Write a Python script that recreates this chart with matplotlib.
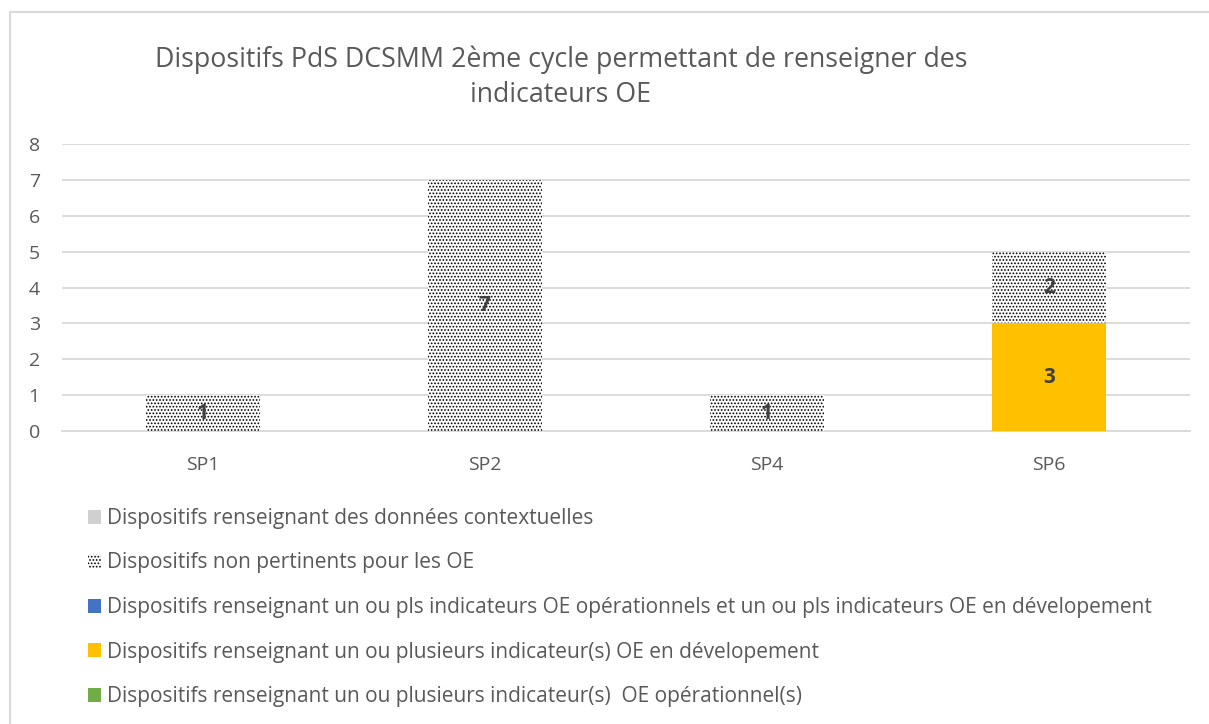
import numpy as np
import matplotlib.pyplot as plt
from matplotlib.patches import Rectangle, Patch

plt.rcParams['font.family'] = ['Open Sans', 'DejaVu Sans']
plt.rcParams['hatch.linewidth'] = 0.8

# --- data ---
categories = ['SP1', 'SP2', 'SP4', 'SP6']
op = [0, 0, 0, 0]          # indicateurs OE opérationnels
dev = [0, 0, 0, 3]         # indicateurs OE en dévelopement
op_dev = [0, 0, 0, 0]      # opérationnels et en dévelopement
non_pert = [1, 7, 1, 2]    # non pertinents pour les OE
context = [0, 0, 0, 0]     # données contextuelles

labels = {
    'context': 'Dispositifs renseignant des données contextuelles',
    'non_pert': 'Dispositifs non pertinents pour les OE',
    'op_dev': 'Dispositifs renseignant un ou pls indicateurs OE opérationnels et un ou pls indicateurs OE en dévelopement',
    'dev': 'Dispositifs renseignant un ou plusieurs indicateur(s) OE en dévelopement',
    'op': 'Dispositifs renseignant un ou plusieurs indicateur(s)  OE opérationnel(s)',
}

fig = plt.figure(figsize=(12.09, 7.24), dpi=100)
ax = fig.add_axes([0.0513, 0.4047, 0.9327, 0.3963])

x = np.arange(len(categories))
w = 0.405
grey = '#595959'
dots = '.....'

series = [
    (op, dict(color='#70AD47')),
    (dev, dict(color='#FFC000')),
    (op_dev, dict(color='#4472C4')),
    (non_pert, dict(facecolor='white', hatch=dots, edgecolor='black', linewidth=0)),
    (context, dict(color='#D0D0D0')),
]
bottom = np.zeros(len(categories))
for vals, style in series:
    vals = np.array(vals, dtype=float)
    bars = ax.bar(x, vals, w, bottom=bottom, zorder=3, **style)
    for b, v, b0 in zip(bars, vals, bottom):
        if v > 0:
            ax.text(b.get_x() + b.get_width() / 2, b0 + v / 2, '%d' % v,
                    ha='center', va='center', fontsize=15, fontweight='bold',
                    color='#404040', zorder=4)
    bottom += vals

ax.set_xlim(-0.5, 3.5)
ax.set_ylim(0, 8)
ax.set_yticks(range(9))
ax.yaxis.grid(True, color='#D9D9D9', linewidth=1.3, zorder=0)
ax.set_axisbelow(True)
for s in ['top', 'right', 'left']:
    ax.spines[s].set_visible(False)
ax.spines['bottom'].set_color('#D9D9D9')
ax.spines['bottom'].set_linewidth(1.3)
ax.tick_params(length=0, labelsize=14, colors=grey)
ax.tick_params(axis='x', pad=18)
ax.tick_params(axis='y', pad=16)
ax.set_xticks(x)
ax.set_xticklabels(categories)

fig.text(0.464, 0.893, 'Dispositifs PdS DCSMM 2ème cycle permettant de renseigner des\nindicateurs OE',
         ha='center', va='center', fontsize=19.3, color=grey, linespacing=1.35)

handles = [
    Patch(facecolor='#D0D0D0', label=labels['context']),
    Patch(facecolor='white', hatch=dots, edgecolor='black', linewidth=0, label=labels['non_pert']),
    Patch(facecolor='#4472C4', label=labels['op_dev']),
    Patch(facecolor='#FFC000', label=labels['dev']),
    Patch(facecolor='#70AD47', label=labels['op']),
]
fig.legend(handles=handles, loc='upper left', bbox_to_anchor=(0.0655, 0.31),
           frameon=False, fontsize=15, labelcolor=grey, handlelength=0.65,
           handleheight=0.65, handletextpad=0.3, labelspacing=1.13, borderaxespad=0)

fig.patches.append(Rectangle((10 / 1209, -0.1), 1.2, 1 - 12 / 724 + 0.1,
                             transform=fig.transFigure, fill=False,
                             edgecolor='#D9D9D9', linewidth=1.5))

fig.savefig('out.png', dpi=100)
